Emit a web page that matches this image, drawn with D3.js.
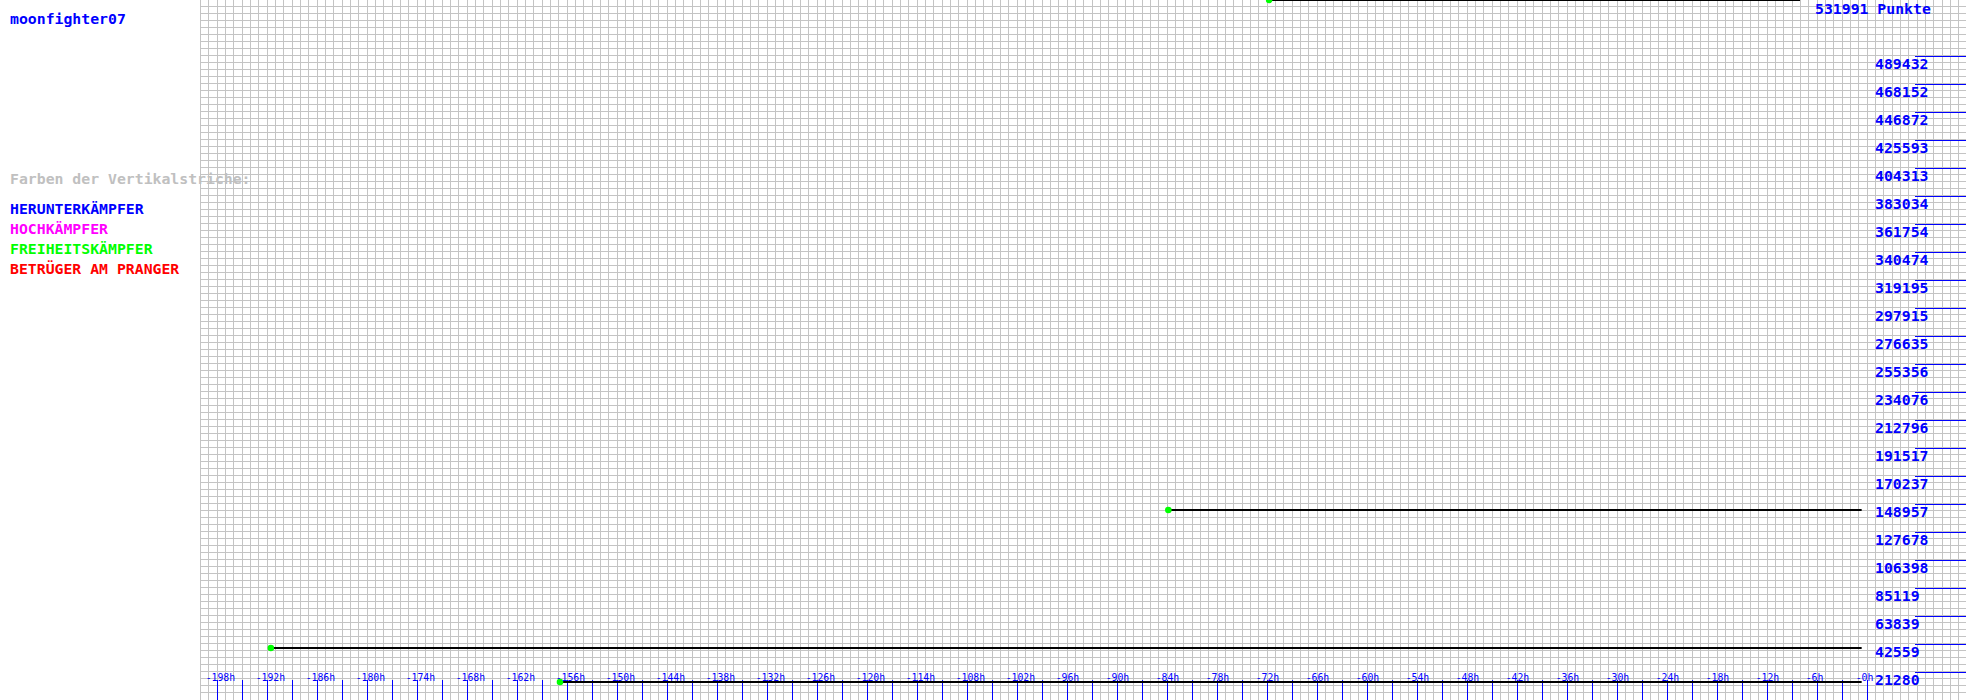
<!DOCTYPE html>
<html>
<head>
<meta charset="utf-8">
<script src="https://cdn.jsdelivr.net/npm/d3@7"></script>
<style>
html,body{margin:0;padding:0;background:#fff;}
svg{display:block;}
text{font-family:"DejaVu Sans Mono",monospace;}
</style>
</head>
<body>
<script>
// ---- data ----
const playerName = "moonfighter07";
const maxPoints = 531991;
const maxLabel = "531991 Punkte";
const legendTitle = "Farben der Vertikalstriche:";
const legendItems = ["HERUNTERKÄMPFER", "HOCHKÄMPFER", "FREIHEITSKÄMPFER", "BETRÜGER AM PRANGER"];
const legendColors = ["#0000ff", "#ff00ff", "#00ff00", "#ff0000"];
const segStartHours = [-191.5, -156.8, -83.8, -71.7];
const segEndHours = [-0.6, -0.6, -0.6, -8];
const segValues = [39520, 13680, 144400, 531991];
const yTickLabels = ["21280","42559","63839","85119","106398","127678","148957","170237","191517","212796","234076","255356","276635","297915","319195","340474","361754","383034","404313","425593","446872","468152","489432"];
const xTickLabels = ["-198h","-192h","-186h","-180h","-174h","-168h","-162h","-156h","-150h","-144h","-138h","-132h","-126h","-120h","-114h","-108h","-102h","-96h","-90h","-84h","-78h","-72h","-66h","-60h","-54h","-48h","-42h","-36h","-30h","-24h","-18h","-12h","-6h","-0h"];
const xTickHours = [-198,-192,-186,-180,-174,-168,-162,-156,-150,-144,-138,-132,-126,-120,-114,-108,-102,-96,-90,-84,-78,-72,-66,-60,-54,-48,-42,-36,-30,-24,-18,-12,-6,0];

// ---- layout ----
const W = 1966, H = 700;
const svg = d3.select("body").append("svg").attr("width", W).attr("height", H);

const x = d3.scaleLinear().domain([-200, 0]).range([200, 200 + 200 * 25 / 3]);
const y = d3.scaleLinear().domain([0, maxPoints]).range([H, 0]);
const px = v => Math.round(v) + 0.5;

// grid
const g = svg.append("g").attr("shape-rendering", "crispEdges");
const hoursGrid = d3.range(-200, 13, 1);
g.selectAll("line.v").data(hoursGrid).enter().append("line")
  .attr("x1", d => px(x(d))).attr("x2", d => px(x(d)))
  .attr("y1", 0).attr("y2", H)
  .attr("stroke", "#c4c4c4").attr("stroke-width", 1);
const valGrid = d3.range(1, 101).map(i => i * maxPoints / 100);
g.selectAll("line.h").data(valGrid).enter().append("line")
  .attr("x1", 200).attr("x2", W)
  .attr("y1", d => Math.round(y(d)) - 0.5).attr("y2", d => Math.round(y(d)) - 0.5)
  .attr("stroke", "#c4c4c4").attr("stroke-width", 1);

// title
svg.append("text").attr("x", 10).attr("y", 24).attr("fill", "#0000ff")
  .attr("font-size", "14.8px").attr("font-weight", "bold").text(playerName);

// legend
svg.append("text").attr("x", 10).attr("y", 183.5).attr("fill", "#c0c0c0")
  .attr("font-size", "14.8px").attr("font-weight", "bold").text(legendTitle);
svg.selectAll("text.leg").data(legendItems).enter().append("text")
  .attr("x", 10).attr("y", (d, i) => 213.5 + i * 20)
  .attr("fill", (d, i) => legendColors[i])
  .attr("font-size", "14.8px").attr("font-weight", "bold").text(d => d);

// y axis marks
const ya = svg.append("g");
ya.selectAll("line").data(yTickLabels).enter().append("line")
  .attr("shape-rendering", "crispEdges")
  .attr("x1", 1915).attr("x2", W)
  .attr("y1", d => Math.round(y(+d)) + 0.5).attr("y2", d => Math.round(y(+d)) + 0.5)
  .attr("stroke", "#0000ff").attr("stroke-width", 1);

// bottom axis ticks
const minorHours = d3.range(-198, 1, 3);
svg.append("g").attr("shape-rendering", "crispEdges").selectAll("line").data(minorHours).enter().append("line")
  .attr("x1", d => px(x(d))).attr("x2", d => px(x(d)))
  .attr("y1", 680).attr("y2", H)
  .attr("stroke", "#0000ff").attr("stroke-width", 1);

// data segments
const segs = segValues.map((v, i) => ({v, s: segStartHours[i], e: segEndHours[i]}));
svg.append("g").selectAll("line").data(segs).enter().append("line")
  .attr("x1", d => x(d.s)).attr("x2", d => x(d.e))
  .attr("y1", d => y(d.v)).attr("y2", d => y(d.v))
  .attr("stroke", "#000").attr("stroke-width", 2.2);
svg.append("g").selectAll("circle").data(segs).enter().append("circle")
  .attr("cx", d => x(d.s)).attr("cy", d => y(d.v)).attr("r", 3.3)
  .attr("fill", "#00ff00");

// bottom labels
svg.append("g").selectAll("text").data(xTickLabels).enter().append("text")
  .attr("x", (d, i) => x(xTickHours[i]) - 11).attr("y", 681)
  .attr("fill", "#0000ff").attr("font-size", "9.8px").text(d => d);

// y labels
ya.selectAll("text").data(yTickLabels).enter().append("text")
  .attr("x", 1875).attr("y", d => y(+d) + 13)
  .attr("fill", "#0000ff").attr("font-size", "14.8px").attr("font-weight", "bold").text(d => d);

// top label
svg.append("text").attr("x", 1815).attr("y", 13.5).attr("fill", "#0000ff")
  .attr("font-size", "14.8px").attr("font-weight", "bold").text(maxLabel);
</script>
</body>
</html>
